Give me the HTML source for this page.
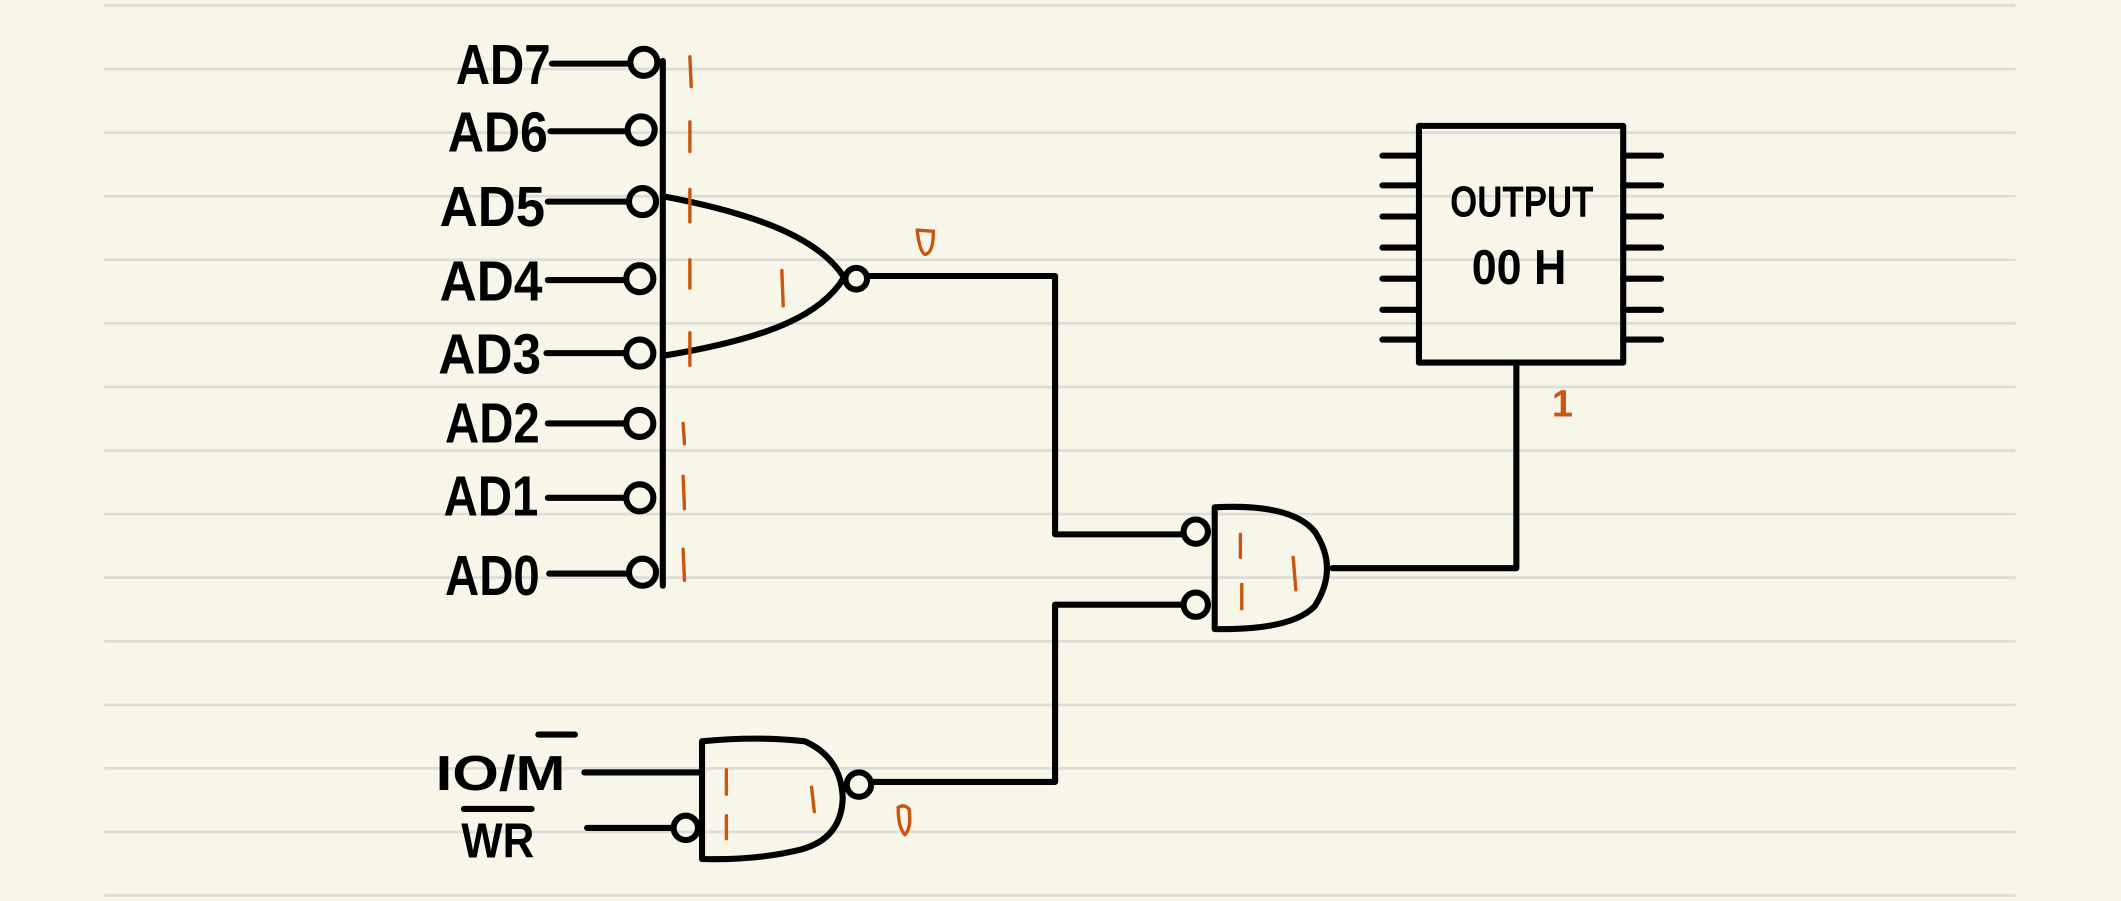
<!DOCTYPE html>
<html><head><meta charset="utf-8"><style>
html,body{margin:0;padding:0;background:#f8f6e9;}
svg{display:block;}
text{font-family:"Liberation Sans",sans-serif;font-weight:bold;}
</style></head><body>
<svg width="2121" height="901" viewBox="0 0 1568 666" xmlns="http://www.w3.org/2000/svg">
<rect width="1568" height="666" fill="#f8f6e9"/>
<g stroke="#dddcd6" stroke-width="2">
<line x1="77" y1="4" x2="1490" y2="4"/><line x1="77" y1="51" x2="1490" y2="51"/>
<line x1="77" y1="98" x2="1490" y2="98"/><line x1="77" y1="145" x2="1490" y2="145"/>
<line x1="77" y1="192" x2="1490" y2="192"/><line x1="77" y1="239" x2="1490" y2="239"/>
<line x1="77" y1="286" x2="1490" y2="286"/><line x1="77" y1="333" x2="1490" y2="333"/>
<line x1="77" y1="380" x2="1490" y2="380"/><line x1="77" y1="427" x2="1490" y2="427"/>
<line x1="77" y1="474" x2="1490" y2="474"/><line x1="77" y1="521" x2="1490" y2="521"/>
<line x1="77" y1="568" x2="1490" y2="568"/><line x1="77" y1="615" x2="1490" y2="615"/>
<line x1="77" y1="662" x2="1490" y2="662"/>
</g>
<g stroke="#000" stroke-width="4.5" fill="none" stroke-linecap="round" stroke-linejoin="round">
<line x1="490" y1="45" x2="490" y2="433"/>
<line x1="408" y1="47" x2="464" y2="47"/><circle cx="476" cy="46" r="10"/>
<line x1="407" y1="97" x2="463" y2="97"/><circle cx="474" cy="96" r="10"/>
<line x1="405" y1="149" x2="463" y2="149"/><circle cx="475" cy="149" r="10"/>
<line x1="405" y1="207" x2="462" y2="207"/><circle cx="473" cy="206" r="10"/>
<line x1="404" y1="261" x2="462" y2="261"/><circle cx="473" cy="261" r="10"/>
<line x1="405" y1="313" x2="462" y2="313"/><circle cx="473" cy="313" r="10"/>
<line x1="405" y1="368" x2="461" y2="368"/><circle cx="473" cy="368" r="10"/>
<line x1="406" y1="424" x2="463" y2="424"/><circle cx="475" cy="423" r="10"/>
<path d="M490 145 C570 160 608 180 624 205 C608 232 570 250 490 263"/>
<circle cx="633" cy="206" r="8"/>
<path d="M642 204 H780 V395 H873"/>
<path d="M873 447 H780 V578 H646"/>
<circle cx="884" cy="393" r="9"/><circle cx="884" cy="447" r="9"/>
<path d="M898 375 V465 Q955 466 972 448 Q990 420 972 393 Q955 372 898 375"/>
<path d="M985 420 H1121 V268"/>
<rect x="1049" y="93" width="151" height="175"/>
<path d="M1022 115H1049M1022 137H1049M1022 160H1049M1022 183H1049M1022 206H1049M1022 229H1049M1022 251H1049"/>
<path d="M1200 115H1228M1200 137H1228M1200 160H1228M1200 183H1228M1200 206H1228M1200 229H1228M1200 251H1228"/>
<path d="M519 635 V548 Q560 544 595 548 Q622 560 623 590 Q622 620 592 628 Q560 636 519 635"/>
<circle cx="635" cy="580" r="9"/>
<line x1="432" y1="571" x2="519" y2="571"/>
<line x1="434" y1="612" x2="497" y2="612"/><circle cx="507" cy="612" r="9"/>
<line x1="343" y1="598" x2="393" y2="598"/><line x1="398" y1="543" x2="425" y2="543"/>
</g>
<g stroke="#c9560f" stroke-width="2.5" stroke-linecap="round" fill="none">
<line x1="510" y1="42" x2="511" y2="64"/><line x1="510" y1="90" x2="510" y2="112"/>
<line x1="510" y1="140" x2="510" y2="164"/><line x1="510" y1="192" x2="510" y2="213"/>
<line x1="510" y1="246" x2="510" y2="270"/>
<line x1="505" y1="313" x2="506" y2="328"/><line x1="505" y1="352" x2="506" y2="376"/>
<line x1="505" y1="406" x2="506" y2="429"/>
<line x1="578" y1="200" x2="579" y2="226"/>
<path d="M678 170 L690 171 Q690 187 684 188 Q680 187 678 170"/>
<line x1="917" y1="395" x2="917" y2="412"/><line x1="918" y1="432" x2="918" y2="450"/>
<line x1="956" y1="412" x2="958" y2="436"/>
<line x1="537" y1="569" x2="537" y2="587"/><line x1="537" y1="603" x2="537" y2="620"/>
<line x1="600" y1="582" x2="602" y2="600"/>
<path d="M664 597 Q668 594 672 598 Q674 612 669 617 Q664 612 664 597"/>
</g>
<text x="1155" y="308" font-size="28" fill="#c9560f" text-anchor="middle" font-weight="normal">1</text>
<g fill="#000" font-size="42">
<text x="372" y="62" text-anchor="middle" textLength="70" lengthAdjust="spacingAndGlyphs">AD7</text>
<text x="368" y="112" text-anchor="middle" textLength="74" lengthAdjust="spacingAndGlyphs">AD6</text>
<text x="364" y="167" text-anchor="middle" textLength="78" lengthAdjust="spacingAndGlyphs">AD5</text>
<text x="363" y="222" text-anchor="middle" textLength="76" lengthAdjust="spacingAndGlyphs">AD4</text>
<text x="362" y="276" text-anchor="middle" textLength="76" lengthAdjust="spacingAndGlyphs">AD3</text>
<text x="364" y="327" text-anchor="middle" textLength="70" lengthAdjust="spacingAndGlyphs">AD2</text>
<text x="363" y="381" text-anchor="middle" textLength="70" lengthAdjust="spacingAndGlyphs">AD1</text>
<text x="364" y="440" text-anchor="middle" textLength="70" lengthAdjust="spacingAndGlyphs">AD0</text>
<text x="370" y="584" font-size="36" text-anchor="middle" textLength="96" lengthAdjust="spacingAndGlyphs">IO/M</text>
<text x="368" y="634" font-size="36" text-anchor="middle" textLength="54" lengthAdjust="spacingAndGlyphs">WR</text>
<text x="1125" y="160" font-size="32" text-anchor="middle" textLength="106" lengthAdjust="spacingAndGlyphs">OUTPUT</text>
<text x="1123" y="210" font-size="36" text-anchor="middle" textLength="70" lengthAdjust="spacingAndGlyphs">00 H</text>
</g>
</svg>
</body></html>
